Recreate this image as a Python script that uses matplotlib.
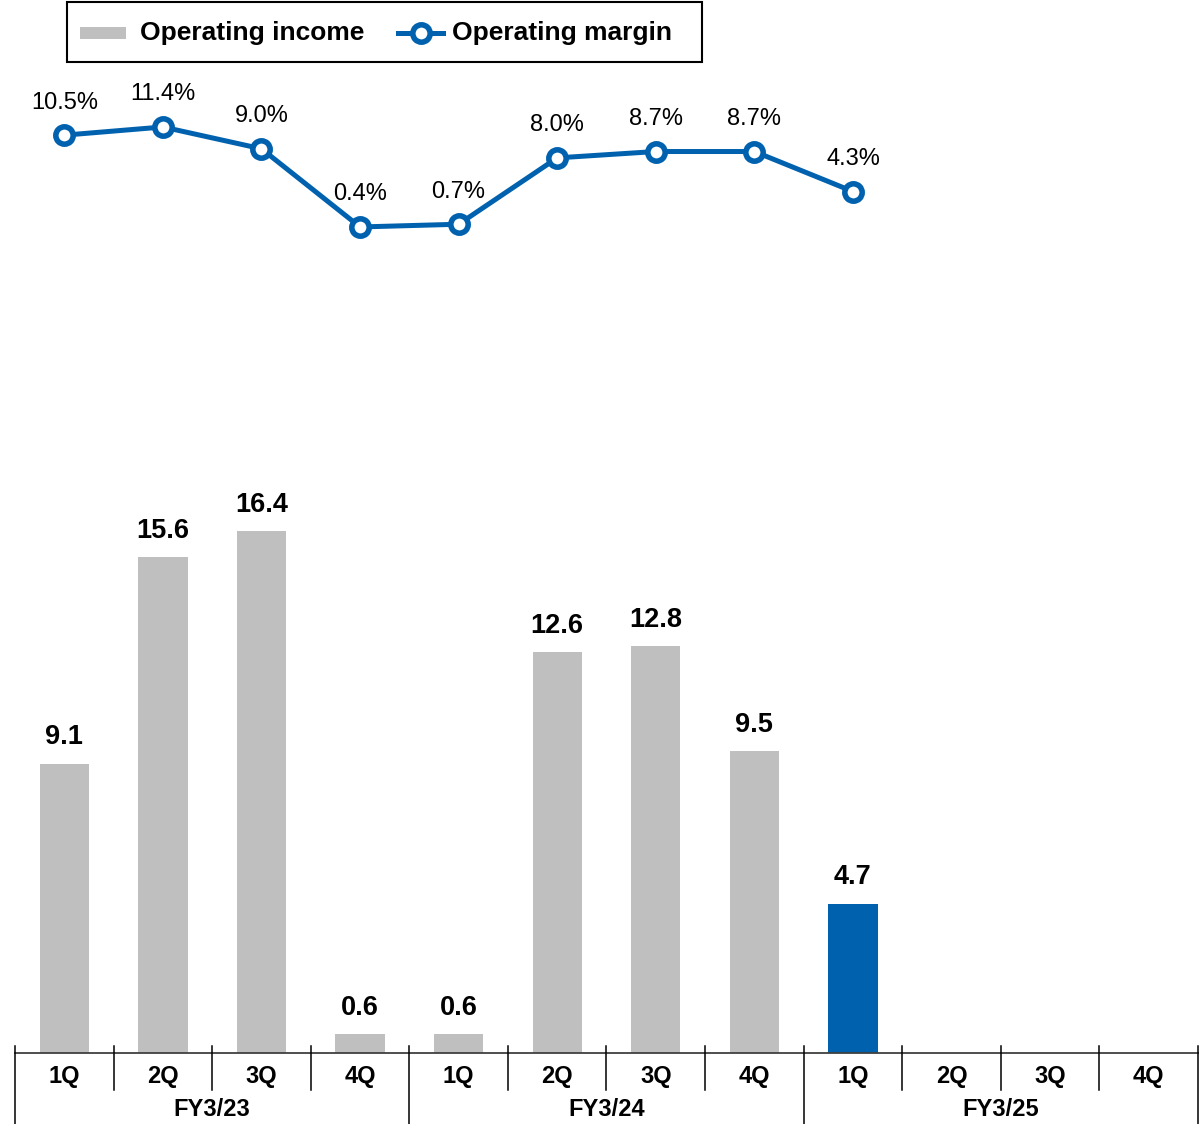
import matplotlib
matplotlib.use("Agg")
import matplotlib.pyplot as plt
import matplotlib.transforms as mtransforms
from matplotlib.lines import Line2D
from matplotlib.patches import Rectangle

plt.rcParams['font.family'] = ['Liberation Sans', 'DejaVu Sans']

quarters = ['1Q', '2Q', '3Q', '4Q'] * 3
fiscal_years = ['FY3/23', 'FY3/24', 'FY3/25']
op_income = [9.1, 15.6, 16.4, 0.6, 0.6, 12.6, 12.8, 9.5, 4.7]
op_margin = [10.5, 11.4, 9.0, 0.4, 0.7, 8.0, 8.7, 8.7, 4.3]

GRAY = '#BFBFBF'
BLUE = '#0062AF'

W, H = 1204, 1124
fig = plt.figure(figsize=(W / 100, H / 100), dpi=100)

# bar area: x from 15 to 1198 px, baseline at y=1053 px (from top)
x0, x1, base = 15, 1198, 1053
ax = fig.add_axes([x0 / W, (H - base) / H, (x1 - x0) / W, base / H])
ax.set_xlim(-0.5, len(quarters) - 0.5)
ax.set_ylim(0, base / 31.8)
ax.axis('off')

xs = list(range(len(op_income)))
colors = [GRAY] * (len(op_income) - 1) + [BLUE]
ax.bar(xs, op_income, width=0.5, color=colors, zorder=2)
for x, v in zip(xs, op_income):
    ax.annotate(f'{v:.1f}', (x, v), xytext=(0, 19), textcoords='offset points',
                ha='center', va='center', fontsize=19.5, fontweight='bold')

# margin line on its own scale, drawn in the upper part
ax2 = ax.twinx()
ax2.set_ylim(-(base - 230.6) / 9.09, 230.6 / 9.09)
ax2.axis('off')
ax2.plot(xs, op_margin, color=BLUE, lw=3.6, marker='o', ms=12.5,
         mfc='white', mec=BLUE, mew=4.0, zorder=3)
for x, v in zip(xs, op_margin):
    ax2.annotate(f'{v:.1f}%', (x, v), xytext=(0, 23.5), textcoords='offset points',
                 ha='center', va='center', fontsize=17)

# category axis with quarter and fiscal year rows
trans = mtransforms.blended_transform_factory(ax.transData, fig.transFigure)
def fy(px):
    return (H - px) / H

axis_color = '#404040'
ax.add_line(Line2D([-0.5, len(quarters) - 0.5], [fy(base), fy(base)], transform=trans,
                   color=axis_color, lw=1.3, clip_on=False))
for i in range(len(quarters) + 1):
    xb = i - 0.5
    bottom = H if i % 4 == 0 else 1090
    ax.add_line(Line2D([xb, xb], [fy(1046), fy(bottom)], transform=trans,
                       color='black', lw=1.1, clip_on=False))
for i, q in enumerate(quarters):
    ax.text(i, fy(1076), q, transform=trans, ha='center', va='center',
            fontsize=17, fontweight='bold')
for j, name in enumerate(fiscal_years):
    ax.text(j * 4 + 1.5, fy(1110), name, transform=trans, ha='center', va='center',
            fontsize=17, fontweight='bold')

# legend box
fig.add_artist(Rectangle((67 / W, fy(62)), (702 - 67) / W, 60 / H, transform=fig.transFigure,
                         fill=False, edgecolor='black', lw=1.5))
fig.add_artist(Rectangle((80 / W, fy(39)), 46 / W, 12 / H, transform=fig.transFigure,
                         facecolor=GRAY, edgecolor='none'))
fig.text(140 / W, fy(33), 'Operating income', ha='left', va='center',
         fontsize=19, fontweight='bold')
fig.add_artist(Line2D([398 / W, 443 / W], [fy(33), fy(33)], transform=fig.transFigure,
                      color=BLUE, lw=3.6))
fig.add_artist(Line2D([420.5 / W], [fy(33)], transform=fig.transFigure, color=BLUE,
                      marker='o', ms=12.5, mfc='white', mec=BLUE, mew=4.0))
fig.text(452 / W, fy(33), 'Operating margin', ha='left', va='center',
         fontsize=19, fontweight='bold')

fig.savefig('out.png', dpi=100)
